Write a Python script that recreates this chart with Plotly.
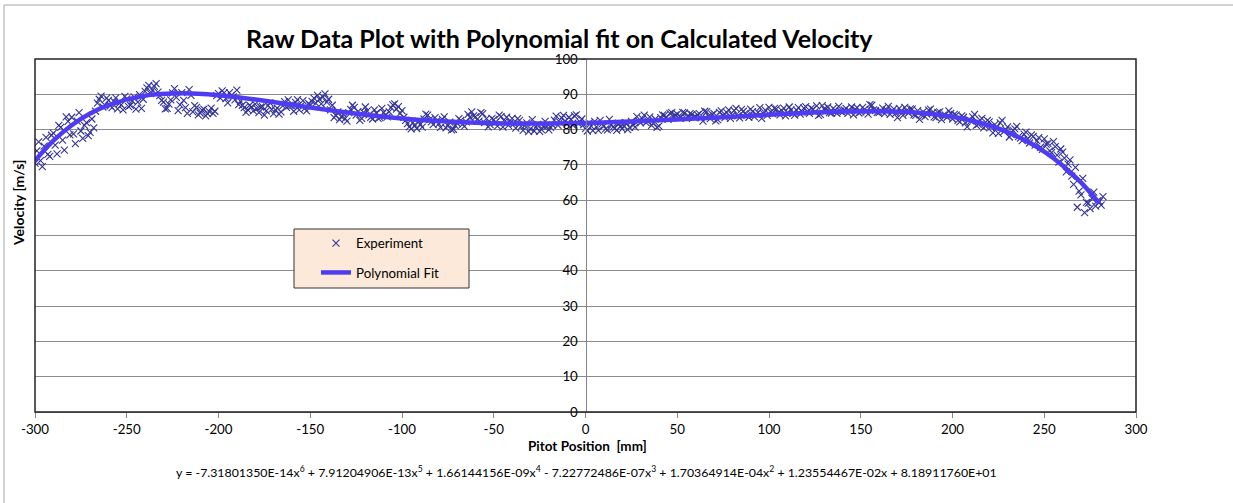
import plotly.graph_objects as go

# ---- data ----
positions_pass1 = list(range(-300, 283, 2))  # mm, sampling positions (even)
velocity_pass1 = [
    70.5, 76.5, 69.5, 77.8, 72.4, 79.0, 73.1, 80.6, 74.2, 82.3,
    83.5, 76.0, 84.8, 77.5, 82.0, 79.2, 80.5, 87.5, 89.5, 87.0,
    88.3, 86.2, 89.0, 87.4, 85.6, 88.7, 86.9, 89.3, 87.8, 86.0,
    90.8, 92.5, 91.2, 93.0, 89.6, 87.8, 86.0, 88.4, 91.6, 85.4,
    90.5, 86.2, 91.3, 85.0, 86.3, 84.7, 85.8, 84.5, 86.1, 85.2,
    90.2, 91.0, 88.8, 90.5, 89.3, 91.2, 88.0, 86.2, 85.6, 86.4,
    87.2, 84.8, 86.5, 85.3, 87.6, 84.5, 86.1, 85.0, 87.9, 88.4,
    86.8, 87.7, 85.6, 88.2, 85.3, 86.9, 88.9, 89.7, 87.3, 90.1,
    88.6, 86.9, 84.0, 82.8, 84.3, 82.4, 85.7, 86.3, 85.1, 83.2,
    86.4, 84.2, 83.0, 84.7, 83.4, 84.9, 83.6, 86.2, 87.3, 86.5,
    85.4, 82.6, 80.8, 82.0, 80.3, 81.5, 83.0, 84.1, 82.2, 83.4,
    81.6, 82.9, 80.5, 82.1, 80.1, 81.8, 82.6, 80.9, 84.3, 85.0,
    83.6, 82.4, 84.5, 83.1, 81.4, 82.8, 81.0, 83.7, 82.3, 81.2,
    83.2, 80.4, 82.6, 79.8, 81.9, 80.2, 79.6, 81.5, 80.0, 82.3,
    79.9, 81.3, 83.8, 82.1, 84.0, 81.6, 82.9, 83.9, 81.8, 83.0,
    80.3, 81.9, 79.7, 80.8, 82.6, 81.0, 79.9, 81.4, 80.4, 81.8,
    80.2, 82.0, 80.6, 81.3, 83.7, 81.9, 84.1, 82.4, 81.2, 83.0,
    81.0, 84.2, 83.5, 84.6, 83.8, 84.4, 83.6, 84.7, 83.9, 84.3,
    83.7, 84.5, 82.4, 85.0, 83.1, 84.6, 82.8, 85.3, 83.4, 85.6,
    84.1, 86.0, 83.3, 85.2, 84.0, 85.8, 83.6, 84.9, 83.2, 85.5,
    86.3, 84.5, 85.9, 84.2, 86.1, 84.8, 85.6, 84.1, 86.2, 85.0,
    86.5, 84.6, 85.8, 86.7, 84.3, 85.9, 86.4, 84.7, 85.5, 86.6,
    84.9, 86.0, 85.3, 84.2, 86.2, 85.0, 85.7, 84.4, 86.9, 85.4,
    84.8, 86.1, 85.6, 84.3, 85.9, 83.4, 85.2, 86.3, 84.7, 85.8,
    84.0, 82.9, 85.1, 84.4, 85.8, 83.6, 84.9, 82.8, 84.2, 85.3,
    83.0, 84.1, 82.2, 83.5, 80.8, 82.4, 84.3, 81.5, 83.2, 81.0,
    82.2, 79.1, 80.6, 81.9, 79.4, 80.8, 78.6, 80.2, 78.0, 76.9,
    79.3, 76.2, 78.1, 76.8, 75.0, 77.4, 76.0, 73.5, 75.2, 70.8,
    73.6, 68.0, 71.4, 64.5, 58.0, 61.5, 56.5, 59.2, 60.5, 58.3,
    59.6, 61.0,
]
positions_pass2 = list(range(-299, 282, 2))  # mm, sampling positions (odd)
velocity_pass2 = [
    74.0, 71.2, 75.3, 73.0, 78.4, 75.6, 81.2, 77.0, 83.6, 78.5,
    78.8, 82.4, 79.6, 81.2, 78.3, 83.0, 85.2, 88.6, 86.4, 88.9,
    86.7, 88.0, 85.9, 87.0, 89.4, 86.5, 88.1, 85.8, 89.9, 88.6,
    91.8, 90.2, 92.3, 90.6, 88.3, 85.9, 87.2, 90.4, 89.1, 87.0,
    88.3, 84.6, 89.7, 86.8, 84.2, 85.5, 83.9, 85.1, 84.6, 89.6,
    88.9, 90.4, 87.6, 89.7, 88.4, 87.1, 86.9, 84.9, 86.9, 85.3,
    85.9, 86.4, 84.1, 86.8, 85.7, 85.6, 84.4, 86.7, 86.3, 86.9,
    85.2, 88.5, 86.8, 86.0, 87.4, 88.0, 87.5, 88.6, 89.2, 87.8,
    85.6, 83.4, 85.0, 83.6, 83.1, 84.8, 86.9, 84.1, 82.6, 84.9,
    85.3, 83.5, 85.6, 83.2, 86.0, 84.2, 85.0, 87.0, 85.8, 84.6,
    83.5, 81.7, 80.2, 81.1, 82.4, 80.7, 84.4, 82.8, 81.4, 82.5,
    80.6, 83.6, 81.2, 79.9, 81.1, 83.1, 81.5, 82.2, 83.5, 83.9,
    82.9, 84.8, 82.0, 80.8, 83.2, 82.1, 84.1, 80.7, 83.5, 82.0,
    81.7, 83.1, 80.9, 81.1, 79.4, 82.8, 80.7, 79.5, 81.0, 80.9,
    80.6, 82.7, 81.2, 83.3, 82.4, 83.5, 81.3, 84.2, 82.2, 81.4,
    79.6, 81.0, 82.3, 79.8, 81.6, 80.2, 82.9, 80.7, 79.8, 80.9,
    81.0, 80.0, 82.3, 80.7, 82.5, 83.1, 82.0, 83.6, 81.8, 80.6,
    83.4, 84.0, 82.9, 84.8, 84.1, 83.3, 84.9, 83.2, 84.5, 83.5,
    84.2, 83.3, 85.2, 83.8, 84.3, 82.5, 84.9, 84.1, 84.8, 83.2,
    85.4, 83.9, 85.7, 84.6, 83.5, 85.1, 84.4, 86.2, 84.5, 84.0,
    85.0, 86.0, 84.8, 85.4, 83.9, 86.4, 84.6, 85.5, 84.4, 86.1,
    85.1, 86.1, 85.0, 84.0, 86.8, 85.3, 84.8, 86.0, 84.6, 85.2,
    85.6, 84.6, 86.4, 85.8, 84.7, 86.3, 85.1, 87.1, 85.6, 84.9,
    85.3, 84.5, 86.6, 85.1, 84.6, 86.0, 84.0, 85.4, 85.9, 84.2,
    85.4, 84.2, 83.7, 85.5, 84.7, 83.4, 85.0, 84.1, 83.5, 84.6,
    84.3, 82.6, 83.9, 81.9, 82.8, 83.6, 81.2, 82.7, 80.5, 82.6,
    80.7, 81.4, 78.9, 82.6, 80.0, 77.9, 79.8, 80.9, 77.6, 78.7,
    77.4, 78.5, 75.6, 77.7, 74.4, 75.9, 74.0, 76.6, 72.8, 74.5,
    71.9, 70.2, 66.8, 69.3, 62.6, 66.2, 59.4, 57.6, 62.3, 59.8,
    58.6,
]

fit_positions = [-300, -290, -280, -270, -260, -240, -220, -200, -180, -160,
                 -140, -120, -100, -80, -60, -40, -20, 0, 20, 40, 60, 80,
                 100, 120, 140, 160, 180, 200, 210, 220, 230, 240, 250, 260,
                 270, 280]
fit_velocity = [71.22, 76.86, 81.24, 84.54, 86.94, 89.63, 90.30, 89.74, 88.51,
                87.01, 85.53, 84.22, 83.17, 82.41, 81.94, 81.72, 81.72, 81.89,
                82.20, 82.62, 83.11, 83.65, 84.21, 84.72, 85.11, 85.21, 84.83,
                83.62, 82.58, 81.16, 79.28, 76.83, 73.73, 69.84, 65.03, 59.15]

x_ticks = [-300, -250, -200, -150, -100, -50, 0, 50, 100, 150, 200, 250, 300]
x_tick_labels = ["-300", "-250", "-200", "-150", "-100", "-50", "0", "50",
                 "100", "150", "200", "250", "300"]
y_ticks = [0, 10, 20, 30, 40, 50, 60, 70, 80, 90, 100]
y_tick_labels = ["0", "10", "20", "30", "40", "50", "60", "70", "80", "90", "100"]

title_text = "Raw Data Plot with Polynomial fit on Calculated Velocity"
x_title = "Pitot Position&nbsp; [mm]"
y_title = "Velocity [m/s]"
equation = ("y = -7.31801350E-14x<sup>6</sup> + 7.91204906E-13x<sup>5</sup> + "
            "1.66144156E-09x<sup>4</sup> - 7.22772486E-07x<sup>3</sup> + "
            "1.70364914E-04x<sup>2</sup> + 1.23554467E-02x + 8.18911760E+01")

FONT = "Lato"
W, H = 1233, 503
L, R, T, B = 35, 1136, 59, 412  # plot area in pixels


def px(xp):
    return (xp - L) / (R - L)


def py(yp):
    return (B - yp) / (B - T)


fig = go.Figure()
fig.add_trace(go.Scatter(
    x=positions_pass1 + positions_pass2,
    y=velocity_pass1 + velocity_pass2,
    mode="markers", name="Experiment",
    marker=dict(symbol="x-thin", size=7, line=dict(width=1.1, color="#33339A"),
                color="#33339A"),
    legendgroup="a",
))
fig.add_trace(go.Scatter(
    x=fit_positions, y=fit_velocity, mode="lines", name="Polynomial Fit",
    line=dict(color="#4F3CF2", width=4.5, shape="spline", smoothing=0.8),
    legendgroup="b",
))

fig.update_layout(
    width=W, height=H,
    margin=dict(l=L, r=W - R, t=T, b=H - B),
    paper_bgcolor="white", plot_bgcolor="white",
    font=dict(family=FONT, size=13, color="black"),
    showlegend=True,
    legend=dict(x=px(316), y=py(228), xanchor="left", yanchor="top",
                bgcolor="rgba(0,0,0,0)", borderwidth=0,
                font=dict(family=FONT, size=13.3, color="black"),
                traceorder="grouped", tracegroupgap=9),
    xaxis=dict(range=[-300, 300], tickvals=x_ticks, ticktext=x_tick_labels,
               showgrid=False,
               zeroline=False, showline=True, linecolor="#868686", linewidth=1,
               ticks="outside", ticklen=5, tickcolor="#868686",
               tickfont=dict(family=FONT, size=13.3, color="black")),
    yaxis=dict(range=[0, 100], tickvals=y_ticks, ticktext=y_tick_labels,
               showgrid=True,
               gridcolor="#8C8C8C", gridwidth=1, zeroline=False,
               showline=True, linecolor="#868686", linewidth=1,
               anchor="free", position=0.5,
               ticks="outside", ticklen=5, tickcolor="#868686",
               tickfont=dict(family=FONT, size=13.3, color="black")),
    shapes=[
        # outer chart border
        dict(type="rect", xref="paper", yref="paper",
             x0=px(4), x1=px(1300), y0=py(560), y1=py(5),
             line=dict(color="#A6A6A6", width=1), layer="below"),
        # plot area border
        dict(type="rect", xref="paper", yref="paper",
             x0=0, x1=1, y0=0, y1=1,
             line=dict(color="#222222", width=1.5), layer="above"),
        # legend box
        dict(type="rect", xref="paper", yref="paper",
             x0=px(294), x1=px(469), y0=py(288), y1=py(229),
             fillcolor="#FDE9D9", line=dict(color="#333333", width=1),
             layer="above"),
    ],
    annotations=[
        dict(text=f"<b>{title_text}</b>", x=px(559), y=py(38), xref="paper",
             yref="paper", showarrow=False, xanchor="center", yanchor="middle",
             font=dict(family=FONT, size=25, color="black")),
        dict(text=f"<b>{x_title}</b>", x=px(587), y=py(446), xref="paper",
             yref="paper", showarrow=False, xanchor="center", yanchor="middle",
             font=dict(family=FONT, size=13.5, color="black")),
        dict(text=f"<b>{y_title}</b>", x=px(18), y=py(203), xref="paper",
             yref="paper", showarrow=False, xanchor="center", yanchor="middle",
             textangle=-90, font=dict(family=FONT, size=14, color="black")),
        dict(text=equation, x=px(586), y=py(471), xref="paper", yref="paper",
             showarrow=False, xanchor="center", yanchor="middle",
             font=dict(family=FONT, size=12.35, color="black")),
    ],
)

fig.write_html(
    "out.html", config={"displayModeBar": False},
    post_script=("document.body.style.margin='0';"
                 "document.body.style.overflow='hidden';"
                 "document.documentElement.style.overflow='hidden';"))
